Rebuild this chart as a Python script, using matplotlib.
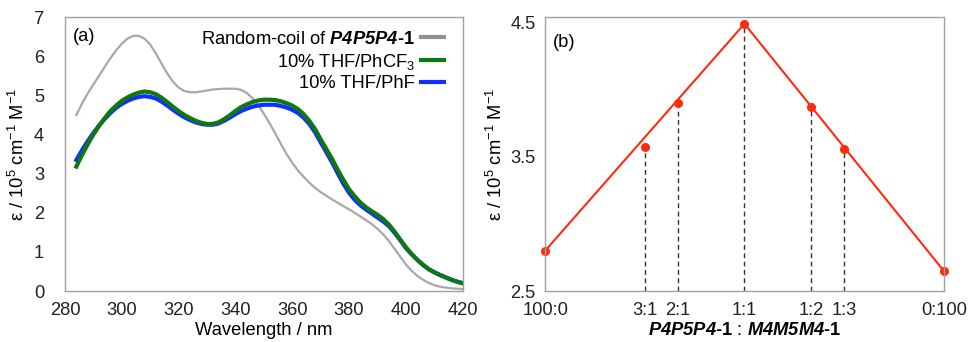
import matplotlib.pyplot as plt
import numpy as np

plt.rcParams['font.family'] = ['Liberation Sans', 'DejaVu Sans']
plt.rcParams['mathtext.fontset'] = 'custom'
plt.rcParams['mathtext.rm'] = 'Liberation Sans'
plt.rcParams['mathtext.it'] = 'Liberation Sans:italic'
plt.rcParams['mathtext.bf'] = 'Liberation Sans:bold'
plt.rcParams['mathtext.bfit'] = 'Liberation Sans:italic:bold'

# (a) espectros
wl = [284, 286, 288, 290, 292, 294, 296, 298, 300, 302, 304, 306, 308, 310, 312, 314,
      316, 318, 320, 322, 324, 326, 328, 330, 332, 334, 336, 338, 340, 342, 344, 346,
      348, 350, 352, 354, 356, 358, 360, 362, 364, 366, 368, 370, 372, 374, 376, 378,
      380, 382, 384, 386, 388, 390, 392, 394, 396, 398, 400, 402, 404, 406, 408, 410,
      412, 414, 416, 418, 420]
phcf3 = [3.18, 3.48, 3.75, 4.00, 4.22, 4.42, 4.60, 4.74, 4.86, 4.95, 5.02, 5.07, 5.10,
         5.08, 5.03, 4.94, 4.83, 4.71, 4.60, 4.50, 4.42, 4.35, 4.30, 4.27, 4.27, 4.31,
         4.39, 4.49, 4.60, 4.70, 4.77, 4.83, 4.87, 4.89, 4.89, 4.88, 4.85, 4.80, 4.74,
         4.65, 4.52, 4.35, 4.14, 3.88, 3.63, 3.38, 3.10, 2.84, 2.60, 2.42, 2.26, 2.14,
         2.04, 1.95, 1.84, 1.70, 1.52, 1.32, 1.12, 0.95, 0.80, 0.67, 0.56, 0.48, 0.41,
         0.35, 0.29, 0.24, 0.20]
phf = [3.35, 3.60, 3.83, 4.04, 4.23, 4.40, 4.55, 4.68, 4.78, 4.86, 4.92, 4.96, 4.98,
       4.96, 4.92, 4.84, 4.74, 4.63, 4.53, 4.44, 4.37, 4.31, 4.27, 4.25, 4.25, 4.28,
       4.35, 4.43, 4.52, 4.60, 4.66, 4.71, 4.74, 4.76, 4.76, 4.76, 4.73, 4.69, 4.63,
       4.55, 4.43, 4.27, 4.06, 3.80, 3.55, 3.29, 3.01, 2.74, 2.51, 2.33, 2.19, 2.08,
       1.98, 1.88, 1.78, 1.66, 1.49, 1.30, 1.10, 0.94, 0.80, 0.67, 0.56, 0.48, 0.41,
       0.35, 0.29, 0.24, 0.20]

wl_rc = [284, 286, 288, 290, 292, 294, 296, 298, 300, 302, 304, 306, 308, 310, 312,
         314, 316, 318, 320, 322, 324, 326, 328, 332, 336, 340, 342, 344, 346, 348,
         350, 352, 354, 356, 358, 360, 362, 364, 366, 368, 370, 374, 378, 382, 386,
         388, 390, 392, 394, 396, 398, 400, 402, 404, 406, 408, 410, 412, 416, 420]
random_coil = [4.50, 4.79, 5.05, 5.28, 5.50, 5.73, 5.95, 6.15, 6.32, 6.45, 6.52, 6.52,
               6.45, 6.30, 6.07, 5.81, 5.56, 5.35, 5.20, 5.11, 5.08, 5.08, 5.10, 5.15,
               5.17, 5.17, 5.14, 5.06, 4.93, 4.75, 4.53, 4.29, 4.03, 3.76, 3.50, 3.28,
               3.08, 2.92, 2.77, 2.64, 2.53, 2.34, 2.17, 2.00, 1.81, 1.71, 1.59, 1.45,
               1.28, 1.08, 0.88, 0.68, 0.52, 0.39, 0.29, 0.21, 0.15, 0.11, 0.07, 0.05]

# (b) job plot
fraccion = [0, 1/4, 1/3, 1/2, 2/3, 3/4, 1]
razones = ['100:0', '3:1', '2:1', '1:1', '1:2', '1:3', '0:100']
eps_b = [2.80, 3.57, 3.90, 4.49, 3.87, 3.56, 2.65]

fs = 13.2
fig = plt.figure(figsize=(9.7, 3.42), dpi=100)
ax1 = fig.add_axes([0.067, 0.149, 0.410, 0.801])
ax2 = fig.add_axes([0.562, 0.149, 0.411, 0.801])

ylab = r'ε / 10$^5$ cm$^{-1}$ M$^{-1}$'

ax1.plot(wl_rc, random_coil, color='#a8a8a8', lw=1.6)
ax1.plot(wl, phf, color='#1030ff', lw=3)
ax1.plot(wl, phcf3, color='#107810', lw=3)
# handles para la leyenda
h1, = ax1.plot([], [], color='#909090', lw=3)
h2, = ax1.plot([], [], color='#107810', lw=3)
h3, = ax1.plot([], [], color='#1030ff', lw=3)
ax1.legend([h1, h2, h3],
           [r'Random-coil of $\mathbfit{P4P5P4}\mathbf{‐1}$',
            r'10% THF/PhCF$_3$', '10% THF/PhF'],
           loc='upper right', bbox_to_anchor=(0.98, 0.99), frameon=False,
           markerfirst=False, fontsize=fs, handlelength=1.25, handletextpad=0.3,
           labelspacing=0.2, borderaxespad=0.2)
ax1.set_xlim(280, 420)
ax1.set_ylim(0, 7)
ax1.set_xticks(range(280, 421, 20))
ax1.set_yticks(range(0, 8))
ax1.set_xlabel('Wavelength / nm', fontsize=fs, labelpad=2)
ax1.set_ylabel(ylab, fontsize=fs, labelpad=4)
ax1.text(0.02, 0.96, '(a)', transform=ax1.transAxes, fontsize=fs, va='top')

for x, y in zip(fraccion[1:-1], eps_b[1:-1]):
    ax2.plot([x, x], [2.5, y], color='#333333', lw=1, ls=(0, (3.5, 2.5)))
ax2.plot([fraccion[0], fraccion[3], fraccion[-1]], [eps_b[0], eps_b[3], eps_b[-1]],
         color='#ff2a10', lw=1.5)
ax2.plot(fraccion, eps_b, 'o', color='#ff2a10', ms=5.5, clip_on=False)
ax2.set_xlim(0, 1)
ax2.set_ylim(2.5, 4.54)
ax2.set_xticks(fraccion)
ax2.set_xticklabels(razones)
ax2.set_yticks([2.5, 3.5, 4.5])
ax2.set_xlabel(r'$\mathbfit{P4P5P4}\mathbf{‐1}$ : $\mathbfit{M4M5M4}\mathbf{‐1}$',
               fontsize=fs, labelpad=2)
ax2.set_ylabel(ylab, fontsize=fs, labelpad=3)
ax2.text(0.02, 0.94, '(b)', transform=ax2.transAxes, fontsize=fs, va='top')

for ax in (ax1, ax2):
    for s in ax.spines.values():
        s.set_color('#a0a0a0')
        s.set_linewidth(1)
    ax.tick_params(length=0, labelsize=fs, colors='#222222')
    ax.tick_params(axis='x', pad=8)
ax1.tick_params(axis='y', pad=15)
ax2.tick_params(axis='y', pad=7)

fig.savefig('out.png', dpi=100)
